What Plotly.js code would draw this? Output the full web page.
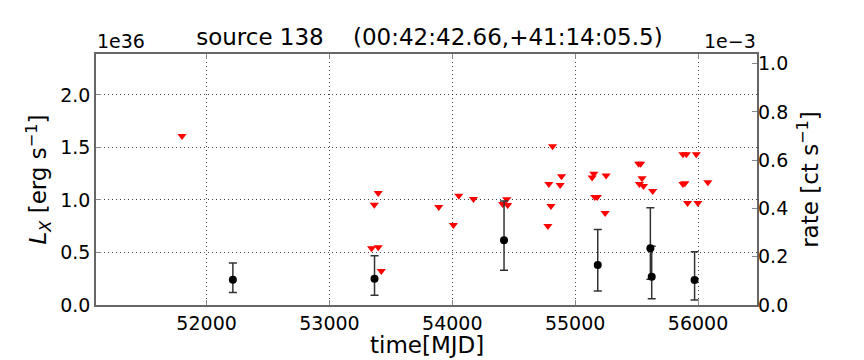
<!DOCTYPE html>
<html>
<head>
<meta charset="utf-8">
<script src="https://cdn.plot.ly/plotly-3.0.1.min.js"></script>
<style>body{margin:0;} #chart{width:864px;height:360px;}</style>
</head>
<body>
<div id="chart"></div>
<script>
// luminosities in units of 1e36 erg/s
var limMjd = [51800, 53343, 53365, 53397, 53397, 53422, 53890, 54009, 54053, 54172,
    54410, 54443, 54451, 54778, 54786, 54803, 54816, 54878, 54889,
    55138, 55152, 55160, 55180, 55244, 55252,
    55517, 55533, 55523, 55544, 55556, 55631,
    55877, 55905, 55986, 55877, 55893, 55915, 55999, 56080];
var limLum = [1.61, 0.54, 0.955, 1.067, 0.55, 0.324, 0.933, 0.762, 1.041, 1.01,
    0.962, 1.006, 0.952, 0.752, 1.152, 0.943, 1.511, 1.143, 1.226,
    1.213, 1.25, 1.029, 1.029, 0.876, 1.232,
    1.346, 1.346, 1.152, 1.206, 1.133, 1.086,
    1.435, 1.435, 1.435, 1.152, 1.159, 0.971, 0.971, 1.168];

var detMjd = [52214, 53367, 54421, 55184, 55612, 55623, 55972];
var detLum = [0.241, 0.25, 0.616, 0.381, 0.54, 0.27, 0.238];
var detHi = [0.40, 0.47, 0.99, 0.72, 0.927, 0.56, 0.508];
var detLo = [0.12, 0.092, 0.33, 0.133, 0.245, 0.06, 0.048];

var timeTicks = [52000, 53000, 54000, 55000, 56000];
var lumTicks = [0, 0.5, 1.0, 1.5, 2.0];
var rateTicks = [0, 0.2, 0.4, 0.6, 0.8, 1.0];

var plus = detHi.map(function (v, i) { return v - detLum[i]; });
var minus = detLo.map(function (v, i) { return detLum[i] - v; });

var font = 'DejaVu Sans, sans-serif';
var grid = 'rgba(0,0,0,0.75)';

var data = [{
    x: limMjd,
    y: limLum,
    type: 'scatter',
    mode: 'markers',
    marker: {symbol: 'triangle-down', color: 'red', size: 8, line: {width: 0}},
    hoverinfo: 'x+y'
}, {
    x: detMjd,
    y: detLum,
    type: 'scatter',
    mode: 'markers',
    marker: {color: 'black', size: 8},
    error_y: {type: 'data', symmetric: false, array: plus, arrayminus: minus,
        color: '#333', thickness: 1.5, width: 4}
}, {
    x: [51100],
    y: [0],
    yaxis: 'y2',
    mode: 'markers',
    marker: {opacity: 0},
    hoverinfo: 'skip'
}];

var layout = {
    width: 864,
    height: 360,
    margin: {l: 96, r: 107, t: 54, b: 55},
    showlegend: false,
    paper_bgcolor: 'white',
    plot_bgcolor: 'white',
    font: {family: font, size: 19, color: 'black'},
    title: {
        text: 'source 138    (00:42:42.66,+41:14:05.5)',
        x: 0.497, xanchor: 'center', y: 0.874, yanchor: 'bottom',
        font: {family: font, size: 23}
    },
    xaxis: {
        range: [51100, 56480],
        tickvals: timeTicks,
        tickformat: 'd',
        ticks: 'inside', ticklen: 5, tickcolor: '#888',
        showline: true, linecolor: '#666', linewidth: 1.5, mirror: 'ticks',
        showgrid: true, gridcolor: grid, griddash: '1px,3px', gridwidth: 1,
        zeroline: false
    },
    yaxis: {
        range: [0, 2.39],
        tickvals: lumTicks,
        tickformat: '.1f',
        ticks: 'inside', ticklen: 5, tickcolor: '#888',
        showline: true, linecolor: '#666', linewidth: 1.5, mirror: true,
        showgrid: true, gridcolor: grid, griddash: '1px,3px', gridwidth: 1,
        zeroline: false,
        title: {text: '<i>L</i><sub><i>X</i></sub> [erg s<sup>\u22121</sup>]', font: {size: 23}, standoff: 7}
    },
    yaxis2: {
        overlaying: 'y',
        side: 'right',
        range: [0, 1.04],
        tickvals: rateTicks,
        tickformat: '.1f',
        ticks: 'inside', ticklen: 5, tickcolor: '#888',
        showgrid: false, zeroline: false,
        title: {text: 'rate [ct s<sup>\u22121</sup>]', font: {size: 23}, standoff: 14}
    },
    annotations: [{
        text: 'time[MJD]', xref: 'paper', yref: 'paper', x: 0.5, y: 0,
        xanchor: 'center', yanchor: 'top', yshift: -25, showarrow: false, font: {size: 23}
    }, {
        text: '1e36', xref: 'paper', yref: 'paper', x: -0.002, y: 1.0,
        xanchor: 'left', yanchor: 'bottom', showarrow: false, font: {size: 19}
    }, {
        text: '1e\u22123', xref: 'paper', yref: 'paper', x: 1.002, y: 1.0,
        xanchor: 'right', yanchor: 'bottom', showarrow: false, font: {size: 19}
    }]
};

var config = {
    responsive: false,
    displayModeBar: false
};

Plotly.newPlot('chart', data, layout, config);
</script>
</body>
</html>
